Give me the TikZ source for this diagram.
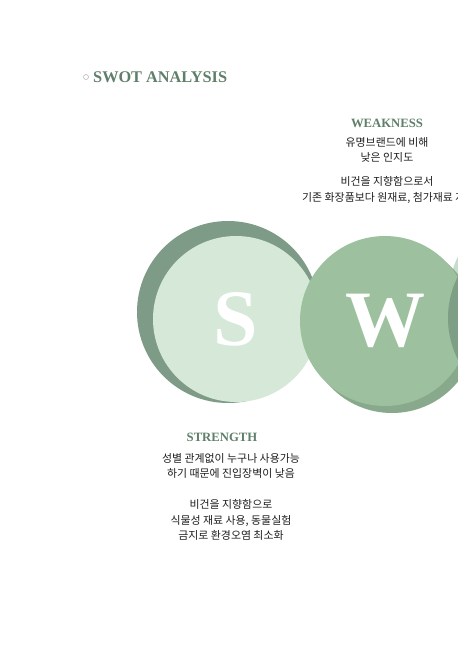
\documentclass[tikz,border=0pt]{standalone}
\usepackage{fontspec}
\setmainfont{Liberation Serif}
\newfontfamily\krfont{Noto Sans CJK KR}
\usetikzlibrary{positioning}
\definecolor{SDark}{HTML}{7D9B87}
\definecolor{SLight}{HTML}{D6E8D8}
\definecolor{WLight}{HTML}{9DC09E}
\definecolor{WShade}{HTML}{88A98B}
\definecolor{ODark}{HTML}{7F9E86}
\definecolor{OLight}{HTML}{C8DCCB}
\definecolor{Title}{HTML}{5F7F6B}
\definecolor{Body}{HTML}{1E1E1E}
\tikzset{
  disc/.style={circle, inner sep=0pt, minimum size=#1},
  letter/.style={text=white, font=\fontsize{80}{80}\selectfont\bfseries},
  heading/.style={text=Title, inner sep=0pt, font=\fontsize{12.7}{14}\selectfont\bfseries},
  bodytext/.style={text=Body, inner sep=0pt, align=center, font=\krfont\fontsize{10.9}{15.5}\selectfont},
}

\begin{document}
\begin{tikzpicture}[x=1pt, y=-1pt]
\useasboundingbox[fill=white] (0,0) rectangle (458,646);

% title
\node[circle, draw=gray!60, line width=0.5pt, inner sep=0pt, minimum size=5pt] (dot) at (86,77) {};
\node[heading, anchor=west, font=\fontsize{16.3}{18}\selectfont\bfseries] (title) at (93,77) {SWOT ANALYSIS};

% bubbles: S, then O behind W, then W, then O in front
\node[disc=182pt, fill=SDark] (s-back) at (228,312) {};
\node[disc=166pt, fill=SLight, letter] (S) at (236,319) {S};
\node[disc=200pt, fill=OLight] (o-back) at (548,300) {};
\node[disc=170pt, fill=WShade] (w-back) at (392,328) {};
\node[disc=170pt, fill=WLight, letter] (W) at (385,321) {W};
\node[disc=184pt, fill=ODark] (O) at (540,318) {};

% weakness
\node[heading] (weak) at (387,123) {WEAKNESS};
\node[bodytext, anchor=north] (weak-1) at (387,137) {유명브랜드에 비해\\낮은 인지도\\[8.5pt]비건을 지향함으로서};
\node[bodytext, anchor=base west] (weak-2) at (302,201) {기존 화장품보다 원재료, 첨가재료 저};

% strength
\node[heading] (strong) at (222,437) {STRENGTH};
\node[bodytext, anchor=north] (strong-1) at (231,453) {성별 관계없이 누구나 사용가능\\하기 때문에 진입장벽이 낮음\\[15.5pt]비건을 지향함으로\\식물성 재료 사용, 동물실험\\금지로 환경오염 최소화};
\end{tikzpicture}
\end{document}
